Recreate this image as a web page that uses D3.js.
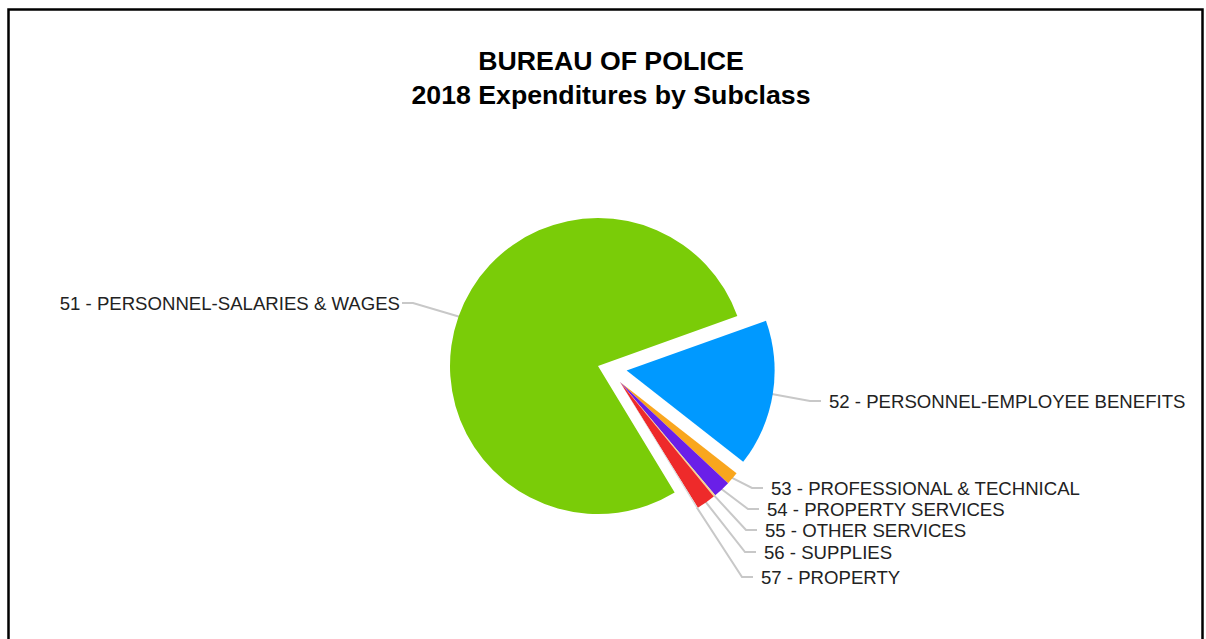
<!DOCTYPE html>
<html>
<head>
<meta charset="utf-8">
<script src="https://cdn.jsdelivr.net/npm/d3@7"></script>
<style>
  html, body { margin: 0; padding: 0; background: #fff; }
  svg { display: block; font-family: Arial, "Liberation Sans", Helvetica, sans-serif; }
</style>
</head>
<body>
<svg id="chart" width="1206" height="639"></svg>
<script>
// Bureau of Police, 2018 expenditures by subclass (share of total, %)
const subclasses = [
  "51 - PERSONNEL-SALARIES & WAGES",
  "52 - PERSONNEL-EMPLOYEE BENEFITS",
  "53 - PROFESSIONAL & TECHNICAL",
  "54 - PROPERTY SERVICES",
  "55 - OTHER SERVICES",
  "56 - SUPPLIES",
  "57 - PROPERTY"
];
const shares = [78.0, 16.0, 1.4, 1.9, 0.2, 2.1, 0.15];
const colors = ["#7acc08", "#0099ff", "#f9a61e", "#6a1fe8", "#f5d58c", "#ee2a2a", "#d9d9d9"];
const titleLines = ["BUREAU OF POLICE", "2018 Expenditures by Subclass"];

// layout
const cx = 598, cy = 366, R = 148;
const startDeg = -211.2;                         // rotation of the first slice
// pulled-out slices: 52 moves along its own bisector, 53–57 move together as a group
const pullOut = [null, { along: 29 }, { dx: 22, dy: 16 }, { dx: 22, dy: 16 },
                 { dx: 22, dy: 16 }, { dx: 22, dy: 16 }, { dx: 22, dy: 16 }];
const labelAt = [
  { x: 400, y: 303, side: "left" },
  { x: 829, y: 401, side: "right" },
  { x: 771, y: 488, side: "right" },
  { x: 767, y: 509, side: "right" },
  { x: 765, y: 530, side: "right" },
  { x: 764, y: 552, side: "right" },
  { x: 761, y: 577, side: "right" }
];

const svg = d3.select("#chart");
const rad = d => d * Math.PI / 180;

// frame
svg.append("rect")
  .attr("x", 8.5).attr("y", 9.5)
  .attr("width", 1194).attr("height", 700)
  .attr("fill", "none").attr("stroke", "#000").attr("stroke-width", 2.5);

// title
svg.append("g").selectAll("text")
  .data(titleLines)
  .join("text")
  .attr("x", 611)
  .attr("y", (d, i) => 70 + i * 33.5)
  .attr("text-anchor", "middle")
  .attr("font-size", 26.7)
  .attr("font-weight", "bold")
  .attr("fill", "#000")
  .text(d => d);

const data = subclasses.map((name, i) => ({ name, value: shares[i], i }));

const pie = d3.pie()
  .value(d => d.value)
  .sort(null)
  .startAngle(rad(startDeg))
  .endAngle(rad(startDeg + 360));

const arcs = pie(data);
const arc = d3.arc().innerRadius(0).outerRadius(R);

const offsetOf = a => {
  const p = pullOut[a.data.i];
  if (!p) return [0, 0];
  if (p.along !== undefined) {
    const m = (a.startAngle + a.endAngle) / 2;
    return [p.along * Math.sin(m), -p.along * Math.cos(m)];
  }
  return [p.dx, p.dy];
};

// leader lines
const lines = svg.append("g")
  .attr("fill", "none")
  .attr("stroke", "#c8c8c8")
  .attr("stroke-width", 2);

arcs.forEach(a => {
  const m = (a.startAngle + a.endAngle) / 2;
  const [ox, oy] = offsetOf(a);
  const px = cx + ox + (R - 1) * Math.sin(m);
  const py = cy + oy - (R - 1) * Math.cos(m);
  const L = labelAt[a.data.i];
  let elbowX, endX;
  if (L.side === "left") { elbowX = L.x + 13; endX = L.x + 2; }
  else { elbowX = L.x - 19; endX = L.x - 8; }
  lines.append("path")
    .attr("d", d3.line()([[px, py], [elbowX, L.y], [endX, L.y]]));
});

// slices
svg.append("g")
  .selectAll("path")
  .data(arcs)
  .join("path")
  .attr("transform", a => {
    const [ox, oy] = offsetOf(a);
    return `translate(${cx + ox},${cy + oy})`;
  })
  .attr("d", arc)
  .attr("fill", a => colors[a.data.i]);

// labels
svg.append("g")
  .selectAll("text")
  .data(arcs)
  .join("text")
  .attr("x", a => labelAt[a.data.i].x)
  .attr("y", a => labelAt[a.data.i].y)
  .attr("dy", "0.36em")
  .attr("text-anchor", a => labelAt[a.data.i].side === "left" ? "end" : "start")
  .attr("font-size", 18.6)
  .attr("fill", "#222")
  .text(a => a.data.name);
</script>
</body>
</html>
